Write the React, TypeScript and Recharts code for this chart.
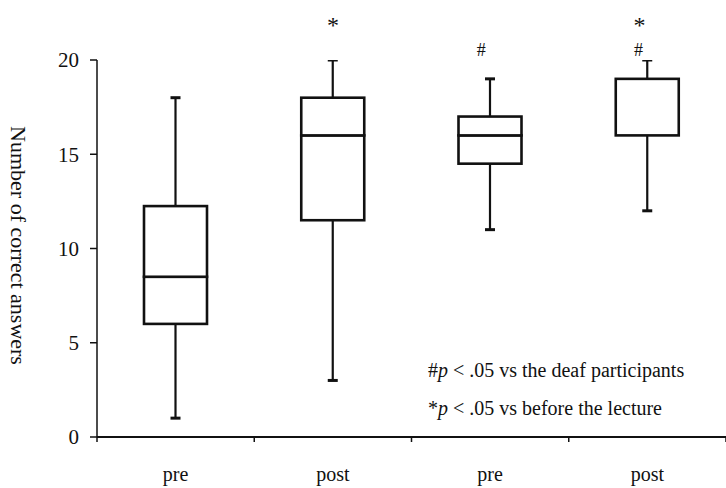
import React from 'react'
import {
    BarChart,
    Bar,
    XAxis,
    YAxis,
    ReferenceDot,
} from 'recharts'

const groups = ['g1', 'g2', 'g3', 'g4']
const groupLabels = ['pre', 'post', 'pre', 'post']
const mins = [1, 3, 11, 12]
const q1s = [6, 11.5, 14.5, 16]
const medians = [8.5, 16, 16, 16]
const q3s = [12.25, 18, 17, 19]
const maxs = [18, 20, 19, 20]
const stars = ['', '*', '', '*']
const hashes = ['', '', '#', '#']
const yTicks = [0, 5, 10, 15, 20]

const FONT = '"Liberation Serif", "Times New Roman", serif'

const data = groups.map((g, i) => ({
    id: g,
    base: mins[i],
    lowWhisker: q1s[i] - mins[i],
    lowBox: medians[i] - q1s[i],
    highBox: q3s[i] - medians[i],
    highWhisker: maxs[i] - q3s[i],
}))

const BoxPart = (props: any) => {
    const { x, y, width, height } = props
    return <rect x={x} y={y} width={width} height={Math.max(height, 0)} fill="#fff" stroke="#111" strokeWidth={2.6} />
}

const Whisker = (props: any) => {
    const { x, y, width, height, low } = props
    const cx = x + width / 2
    const capY = low ? y + height : y
    return (
        <g stroke="#111">
            <line x1={cx} x2={cx} y1={y} y2={y + height} strokeWidth={2.2} />
            <line x1={cx - 5} x2={cx + 5} y1={capY} y2={capY} strokeWidth={3} />
        </g>
    )
}

const XTick = (props: any) => {
    const { x, y, payload, index } = props
    const half = payload && payload.offset ? payload.offset : 0
    return (
        <g>
            {half ? <line x1={x - half} x2={x - half} y1={y - 8} y2={y - 3} stroke="#111" strokeWidth={1.5} /> : null}
            {index === groups.length - 1 && half ? (
                <line x1={x + half} x2={x + half} y1={y - 8} y2={y - 3} stroke="#111" strokeWidth={1.5} />
            ) : null}
            <text x={x} y={y + 36} textAnchor="middle" fontFamily={FONT} fontSize={20} fill="#111">
                {groupLabels[index]}
            </text>
        </g>
    )
}

const YLabel = (props: any) => {
    const { viewBox } = props
    const cy = viewBox.y + viewBox.height / 2 - 3
    return (
        <text x={18} y={cy} transform={`rotate(90, 18, ${cy})`} textAnchor="middle" dominantBaseline="central"
            fontFamily={FONT} fontSize={22} fill="#111">
            Number of correct answers
        </text>
    )
}

export default function App() {
    return (
        <div style={{ position: 'absolute', left: 0, top: 0, width: 726, height: 488, background: '#fff' }}>
            <BarChart width={726} height={488} data={data} margin={{ top: 60, right: 0, bottom: 0, left: 0 }} barSize={63}>
                <XAxis
                    dataKey="id"
                    height={51}
                    axisLine={{ stroke: '#111', strokeWidth: 2 }}
                    tickLine={false}
                    tick={<XTick />}
                    interval={0}
                />
                <YAxis
                    width={97}
                    domain={[0, 20]}
                    ticks={yTicks}
                    allowDataOverflow
                    axisLine={{ stroke: '#111', strokeWidth: 1.5 }}
                    tickLine={{ stroke: '#111', strokeWidth: 1.5 }}
                    tickSize={7}
                    tickMargin={11}
                    tick={{ fill: '#111', fontSize: 21, fontFamily: FONT }}
                    label={<YLabel />}
                />
                <Bar dataKey="base" stackId="a" fill="transparent" isAnimationActive={false} />
                <Bar dataKey="lowWhisker" stackId="a" shape={(p: any) => <Whisker {...p} low />} isAnimationActive={false} />
                <Bar dataKey="lowBox" stackId="a" shape={(p: any) => <BoxPart {...p} />} isAnimationActive={false} />
                <Bar dataKey="highBox" stackId="a" shape={(p: any) => <BoxPart {...p} />} isAnimationActive={false} />
                <Bar dataKey="highWhisker" stackId="a" shape={(p: any) => <Whisker {...p} />} isAnimationActive={false} />
                {groups.map((g, i) => stars[i] ? (
                    <ReferenceDot key={'s' + g} x={g} y={22} r={0} ifOverflow="visible"
                        label={{ value: stars[i], position: 'center', fontSize: 24, fontFamily: FONT, fill: '#111', dx: i === 3 ? -8 : 0, dy: 2 }} />
                ) : null)}
                {groups.map((g, i) => hashes[i] ? (
                    <ReferenceDot key={'h' + g} x={g} y={20.55} r={0} ifOverflow="visible"
                        label={{ value: hashes[i], position: 'center', fontSize: 18, fontFamily: FONT, fill: '#111', dx: -9 }} />
                ) : null)}
            </BarChart>
            <div style={{ position: 'absolute', left: 428, top: 358, fontFamily: FONT, fontSize: 20, color: '#111', lineHeight: '24px', whiteSpace: 'nowrap' }}>
                #<i>p</i> &lt; .05 vs the deaf participants
            </div>
            <div style={{ position: 'absolute', left: 428, top: 396, fontFamily: FONT, fontSize: 20, color: '#111', lineHeight: '24px', whiteSpace: 'nowrap' }}>
                *<i>p</i> &lt; .05 vs before the lecture
            </div>
        </div>
    )
}
